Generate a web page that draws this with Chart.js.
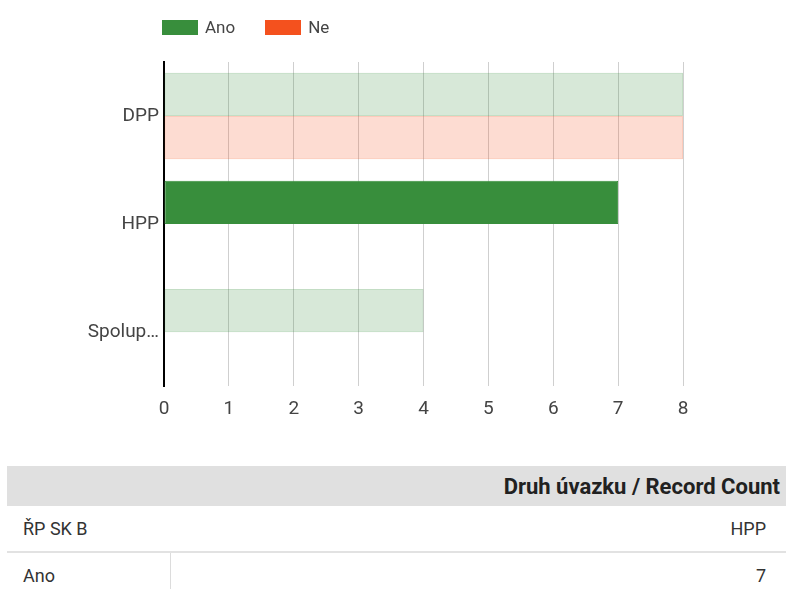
<!DOCTYPE html>
<html lang="cs">
<head>
    <meta charset="UTF-8">
    <title>Druh úvazku</title>
    <script src="https://cdn.jsdelivr.net/npm/chart.js@4.4.0/dist/chart.umd.min.js"></script>
    <style>
        body {
            margin: 0;
            font-family: Roboto, Arial, sans-serif;
            background: #fff;
            width: 786px;
            height: 589px;
            overflow: hidden;
            position: relative;
        }
        .chart-box {
            position: absolute;
            left: 0;
            top: 0;
            width: 786px;
            height: 445px;
        }
        .legend {
            position: absolute;
            left: 162px;
            top: 19px;
            display: flex;
            align-items: center;
            font-size: 17px;
            color: #444;
            line-height: 17px;
        }
        .legend span.box {
            display: inline-block;
            width: 36px;
            height: 15px;
            margin-right: 7px;
        }
        .legend .item {
            display: flex;
            align-items: center;
            margin-right: 30px;
        }
        table {
            position: absolute;
            left: 7px;
            top: 466px;
            width: 779px;
            border-collapse: collapse;
            color: #333;
            font-size: 18px;
        }
        th {
            background: #e0e0e0;
            height: 40px;
            text-align: right;
            font-weight: bold;
            font-size: 22px;
            color: #212121;
            padding: 0 6px 0 0;
        }
        td {
            padding: 0 20px 0 16px;
        }
        .r1 td {
            height: 45px;
            border-bottom: 2px solid #e2e2e2;
        }
        .r2 td {
            height: 44px;
        }
        .r2 td.first {
            width: 127px;
        }
        .r2 td.val {
            border-left: 1px solid #dcdcdc;
            text-align: right;
        }
    </style>
</head>
<body>
    <div class="chart-box">
        <canvas id="myChart"></canvas>
    </div>
    <div class="legend" id="legend"></div>
    <table>
        <tr><th colspan="2">Druh úvazku / Record Count</th></tr>
        <tr class="r1"><td>ŘP SK B</td><td style="text-align:right">HPP</td></tr>
        <tr class="r2"><td class="first">Ano</td><td class="val">7</td></tr>
    </table>

    <script>
        // data
        const categories = ['DPP', 'HPP', 'Spolup…'];
        const seriesNames = ['Ano', 'Ne'];
        const anoValues = [8, 7, 4];
        const neValues = [8, 0, 0];
        const xTicks = [0, 1, 2, 3, 4, 5, 6, 7, 8];
        // selected bar (HPP / Ano), everything else is faded
        const selected = { series: 0, index: 1 };

        const solidColors = ['#388e3c', '#f4511e'];
        const fadedColors = ['rgba(56,142,60,0.2)', 'rgba(244,81,30,0.2)'];
        const edgeColors = ['rgba(56,142,60,0.3)', 'rgba(244,81,30,0.3)'];

        function colorsFor(s, solid, faded) {
            return categories.map((c, i) => (s === selected.series && i === selected.index) ? solid : faded);
        }

        // legend
        const legendEl = document.getElementById('legend');
        seriesNames.forEach((name, i) => {
            const item = document.createElement('div');
            item.className = 'item';
            item.innerHTML = '<span class="box" style="background:' + solidColors[i] + '"></span><span>' + name + '</span>';
            legendEl.appendChild(item);
        });

        const seriesValues = [anoValues, neValues];
        const datasets = seriesNames.map((name, s) => ({
            label: name,
            data: seriesValues[s],
            backgroundColor: colorsFor(s, solidColors[s], fadedColors[s]),
            borderColor: colorsFor(s, solidColors[s], edgeColors[s]),
            borderWidth: 1,
            borderSkipped: false
        }));

        const ctx = document.getElementById('myChart').getContext('2d');
        const myChart = new Chart(ctx, {
            type: 'bar',
            data: {
                labels: categories,
                datasets: datasets
            },
            options: {
                indexAxis: 'y',
                responsive: true,
                maintainAspectRatio: false,
                animation: false,
                layout: {
                    padding: { left: 0, right: 103, top: 62, bottom: 12 }
                },
                datasets: {
                    bar: { categoryPercentage: 0.8, barPercentage: 1.0 }
                },
                plugins: {
                    legend: { display: false },
                    tooltip: { enabled: false }
                },
                scales: {
                    x: {
                        min: 0,
                        max: 8,
                        afterBuildTicks: axis => { axis.ticks = xTicks.map(v => ({ value: v })); },
                        grid: { color: '#cfcfcf', drawTicks: false },
                        border: { display: false },
                        ticks: {
                            color: '#444',
                            font: { family: 'Roboto', size: 19 },
                            padding: 12
                        }
                    },
                    y: {
                        grid: { display: false, drawTicks: false },
                        border: { display: true, color: '#000', width: 2 },
                        ticks: {
                            color: '#444',
                            font: { family: 'Roboto', size: 19 },
                            padding: 5
                        },
                        afterFit: axis => { axis.width = 164; }
                    }
                }
            }
        });
    </script>
</body>
</html>
